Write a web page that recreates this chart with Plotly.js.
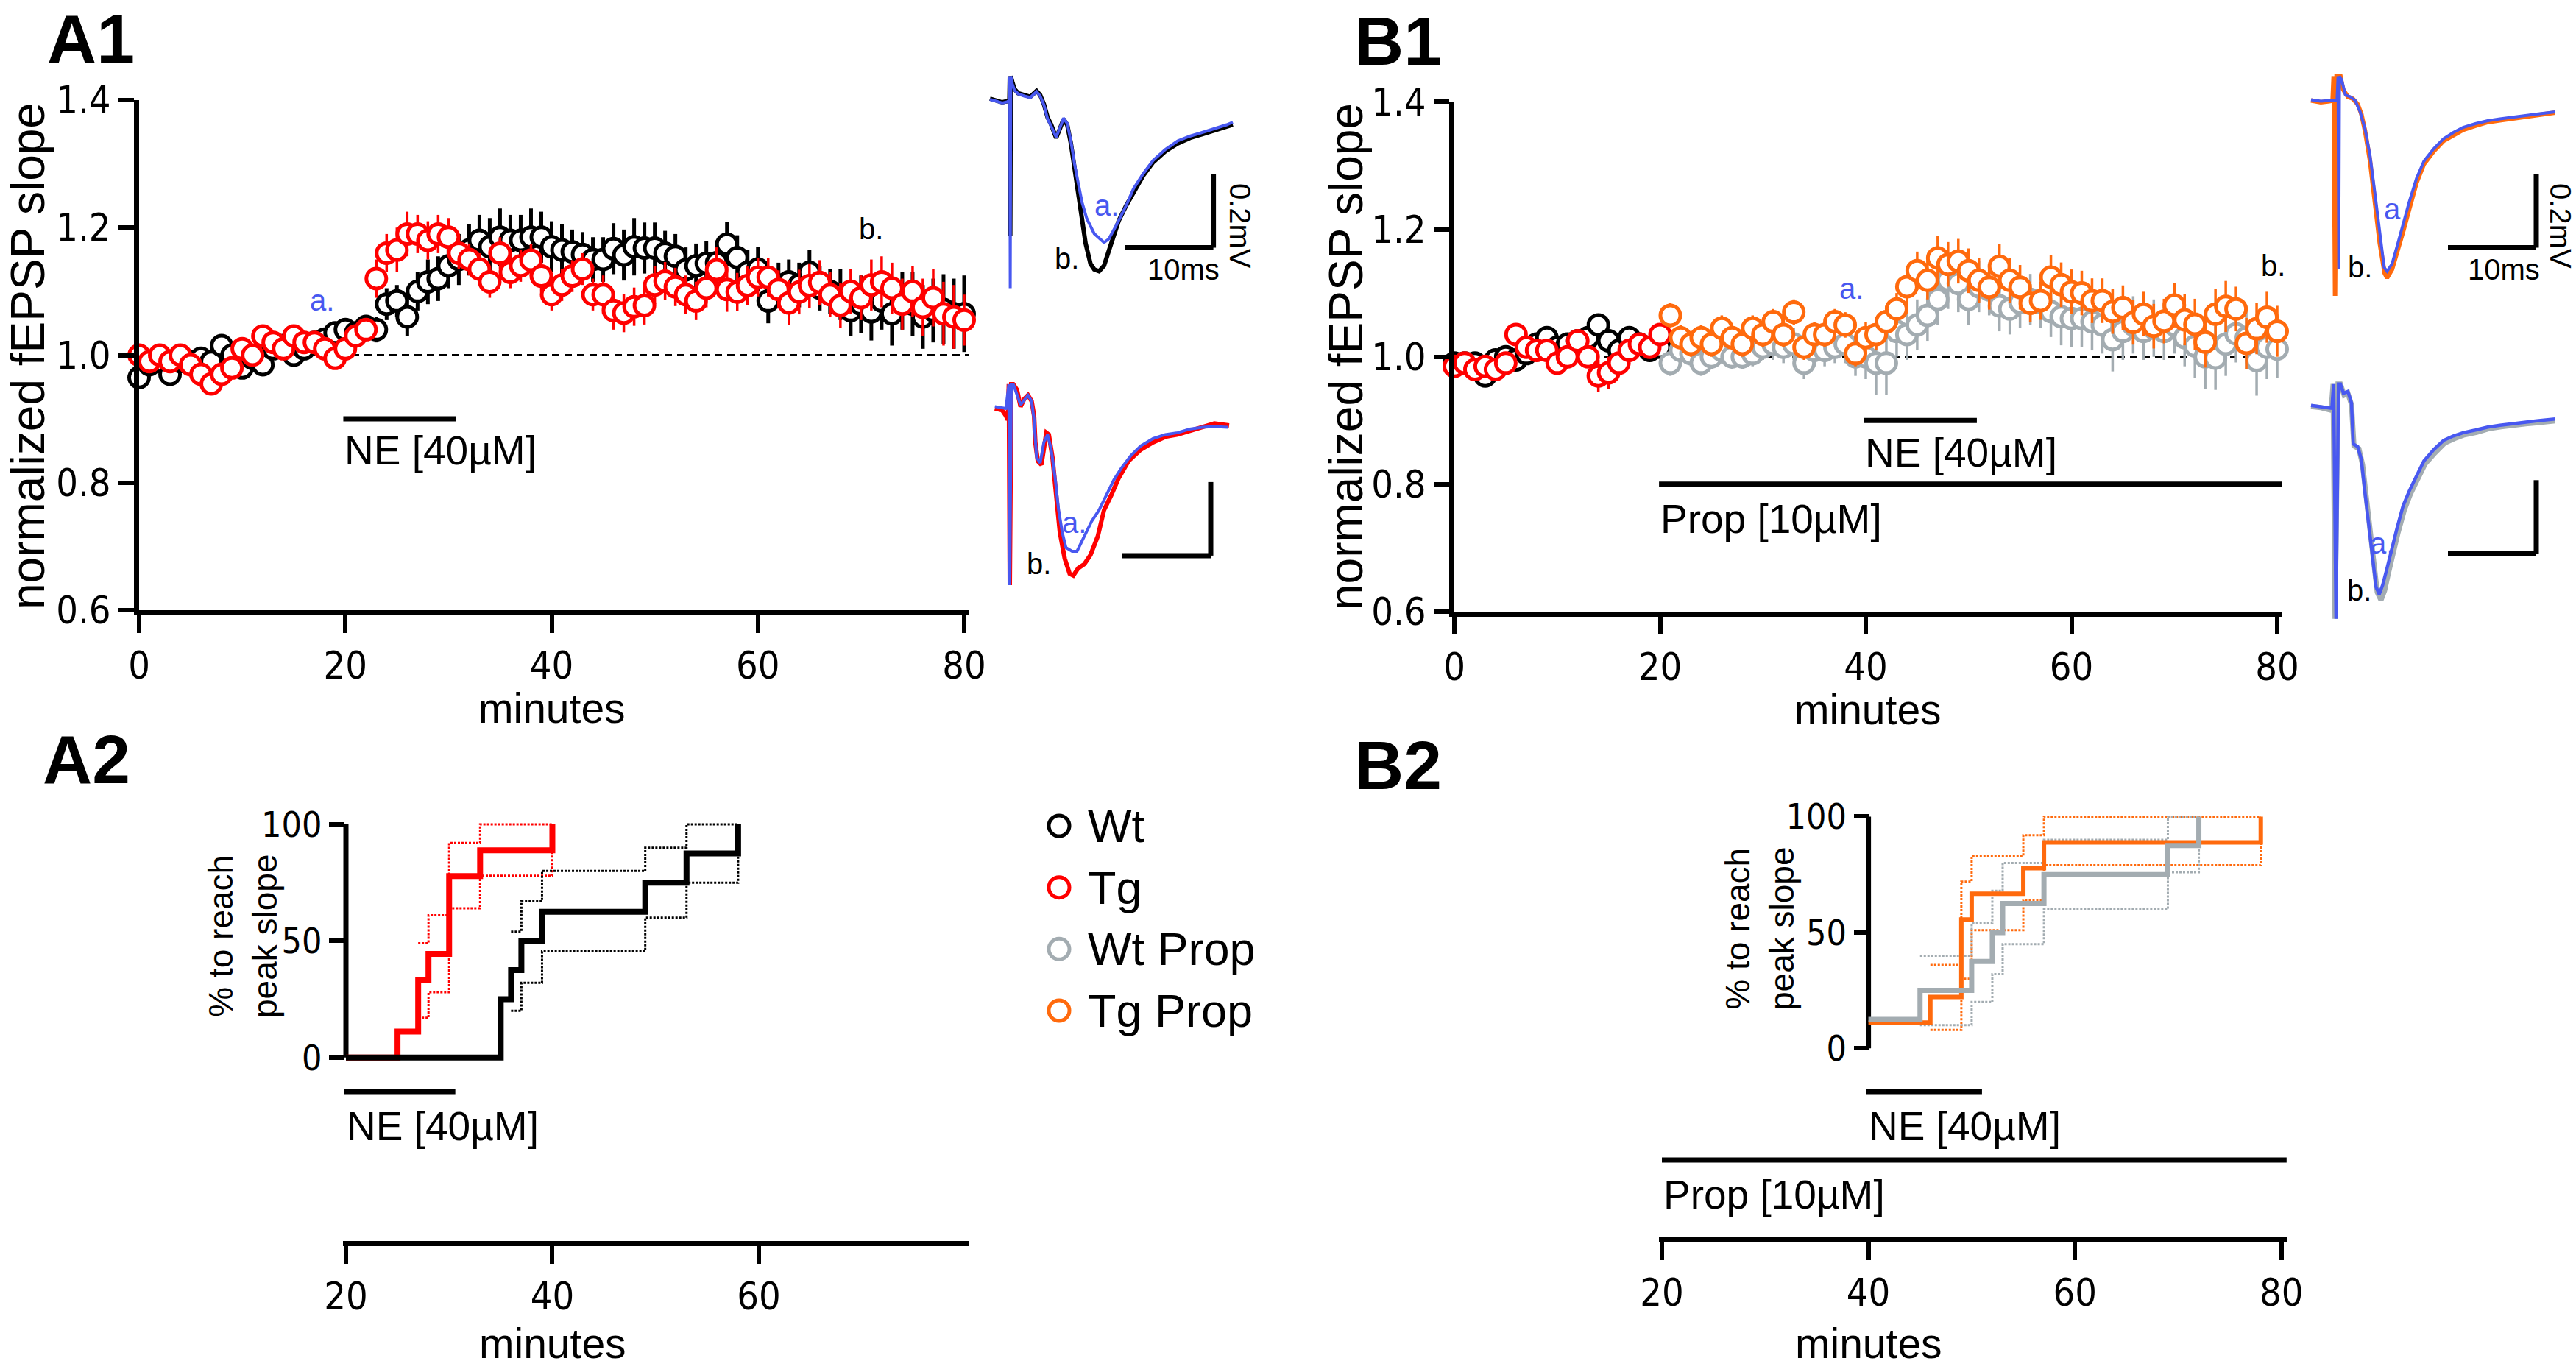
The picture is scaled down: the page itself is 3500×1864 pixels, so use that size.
<!DOCTYPE html>
<html><head><meta charset="utf-8">
<script src="https://cdn.plot.ly/plotly-3.0.1.min.js"></script>
<style>html,body{margin:0;padding:0;background:#fff}#chart{width:3500px;height:1864px}</style>
</head><body><div id="chart"></div>
<script>
// ================= DATA =================
// A1: normalized fEPSP slope, one point per minute
const minutesAll = [0,1,2,3,4,5,6,7,8,9,10,11,12,13,14,15,16,17,18,19,20,21,22,23,24,25,26,27,28,29,30,31,32,33,34,35,36,37,38,39,40,41,42,43,44,45,46,47,48,49,50,51,52,53,54,55,56,57,58,59,60,61,62,63,64,65,66,67,68,69,70,71,72,73,74,75,76,77,78,79,80];
const a1Wt = [0.965,0.985,0.99,0.97,0.99,0.99,0.995,0.99,1.015,1.00,
  0.98,0.995,0.985,1.01,1.015,1.00,1.01,1.02,1.025,1.035,
  1.04,1.035,1.045,1.04,1.08,1.085,1.06,1.10,1.115,1.12,
  1.14,1.15,1.165,1.18,1.17,1.185,1.18,1.18,1.185,1.185,
  1.17,1.165,1.162,1.158,1.15,1.15,1.167,1.157,1.17,1.168,
  1.168,1.16,1.155,1.134,1.14,1.144,1.145,1.174,1.153,1.13,
  1.135,1.085,1.11,1.115,1.11,1.13,1.105,1.10,1.095,1.07,
  1.08,1.068,1.085,1.065,1.085,1.08,1.06,1.07,1.072,1.065,1.065];
const a1WtErr = [0.012,0.01,0.01,0.012,0.01,0.01,0.01,0.01,0.012,0.01,
  0.012,0.01,0.012,0.01,0.01,0.01,0.01,0.01,0.012,0.012,
  0.015,0.015,0.018,0.02,0.025,0.025,0.03,0.03,0.035,0.035,
  0.035,0.04,0.04,0.04,0.045,0.045,0.04,0.04,0.045,0.04,
  0.04,0.04,0.035,0.035,0.035,0.035,0.04,0.04,0.045,0.04,
  0.04,0.035,0.035,0.035,0.035,0.035,0.035,0.035,0.035,0.035,
  0.035,0.035,0.035,0.035,0.035,0.035,0.035,0.035,0.04,0.04,
  0.045,0.045,0.045,0.05,0.045,0.05,0.05,0.05,0.055,0.055,0.06];
const a1Tg = [1.00,0.99,1.00,0.99,1.00,0.985,0.97,0.955,0.97,0.98,
  1.01,1.00,1.03,1.02,1.01,1.03,1.02,1.02,1.01,0.995,
  1.01,1.03,1.04,1.12,1.16,1.165,1.19,1.19,1.18,1.19,
  1.185,1.16,1.15,1.135,1.115,1.16,1.13,1.14,1.149,1.124,
  1.095,1.11,1.124,1.135,1.095,1.095,1.07,1.066,1.076,1.078,
  1.11,1.116,1.107,1.095,1.085,1.105,1.134,1.103,1.099,1.109,
  1.122,1.122,1.103,1.082,1.099,1.109,1.114,1.095,1.078,1.10,
  1.09,1.11,1.115,1.105,1.08,1.10,1.075,1.09,1.065,1.06,1.055];
const a1TgErr = [0.012,0.01,0.01,0.01,0.015,0.01,0.012,0.01,0.01,0.01,
  0.012,0.01,0.012,0.01,0.01,0.012,0.01,0.01,0.012,0.012,
  0.012,0.012,0.012,0.03,0.03,0.035,0.035,0.03,0.03,0.03,
  0.03,0.025,0.025,0.025,0.025,0.025,0.025,0.025,0.025,0.025,
  0.025,0.025,0.025,0.025,0.025,0.03,0.03,0.03,0.03,0.03,
  0.03,0.03,0.03,0.03,0.03,0.03,0.035,0.035,0.03,0.03,
  0.03,0.03,0.03,0.035,0.035,0.035,0.035,0.035,0.035,0.035,
  0.035,0.04,0.04,0.04,0.04,0.04,0.045,0.045,0.05,0.05,0.04];

// B1: baseline (0-20 min) and propranolol period (21-80 min)
const minutesBase = [0,1,2,3,4,5,6,7,8,9,10,11,12,13,14,15,16,17,18,19,20];
const minutesDrug = [21,22,23,24,25,26,27,28,29,30,31,32,33,34,35,36,37,38,39,40,41,42,43,44,45,46,47,48,49,50,51,52,53,54,55,56,57,58,59,60,61,62,63,64,65,66,67,68,69,70,71,72,73,74,75,76,77,78,79,80];
const b1WtBase = [0.99,0.99,0.99,0.97,0.995,1.00,0.995,1.005,1.02,1.03,1.015,1.02,1.025,1.03,1.05,1.025,1.01,1.03,1.02,1.01,1.015];
const b1WtBaseErr = [0.01,0.01,0.01,0.01,0.01,0.01,0.01,0.01,0.01,0.012,0.01,0.012,0.01,0.012,0.015,0.012,0.01,0.012,0.01,0.01,0.01];
const b1TgBase = [0.985,0.99,0.98,0.985,0.98,0.99,1.035,1.015,1.01,1.01,0.99,1.00,1.025,1.00,0.97,0.975,0.99,1.01,1.02,1.015,1.035];
const b1TgBaseErr = [0.01,0.012,0.012,0.01,0.012,0.012,0.012,0.012,0.012,0.012,0.015,0.012,0.015,0.015,0.025,0.025,0.015,0.015,0.012,0.012,0.012];
const b1WtProp = [0.99,1.01,1.005,0.99,1.00,1.01,1.00,1.00,1.005,1.015,
  1.02,1.015,1.02,0.99,1.01,1.01,1.015,1.02,1.00,1.00,
  0.99,0.99,1.04,1.035,1.05,1.065,1.09,1.12,1.115,1.09,
  1.11,1.105,1.08,1.075,1.085,1.09,1.085,1.071,1.063,1.06,
  1.06,1.055,1.05,1.027,1.04,1.05,1.04,1.045,1.04,1.05,
  1.03,1.017,1.00,0.998,1.02,1.036,1.03,0.994,1.015,1.012];
const b1WtPropErr = [0.02,0.02,0.02,0.02,0.02,0.02,0.02,0.02,0.02,0.02,
  0.025,0.025,0.025,0.025,0.025,0.025,0.025,0.03,0.03,0.035,
  0.05,0.05,0.04,0.04,0.04,0.04,0.04,0.045,0.045,0.04,
  0.04,0.04,0.04,0.04,0.04,0.04,0.04,0.04,0.045,0.045,
  0.045,0.045,0.045,0.05,0.045,0.045,0.045,0.045,0.045,0.045,
  0.045,0.05,0.05,0.05,0.05,0.045,0.05,0.055,0.05,0.045];
const b1TgProp = [1.065,1.03,1.02,1.03,1.02,1.045,1.03,1.02,1.045,1.035,
  1.055,1.035,1.07,1.015,1.035,1.035,1.055,1.05,1.005,1.03,
  1.035,1.055,1.075,1.11,1.135,1.12,1.155,1.145,1.15,1.135,
  1.12,1.109,1.142,1.12,1.109,1.084,1.088,1.125,1.113,1.102,
  1.10,1.088,1.088,1.071,1.077,1.054,1.067,1.048,1.056,1.081,
  1.058,1.051,1.023,1.067,1.079,1.075,1.021,1.044,1.062,1.04];
const b1TgPropErr = [0.02,0.02,0.02,0.02,0.02,0.02,0.02,0.02,0.02,0.02,
  0.02,0.02,0.02,0.02,0.02,0.02,0.02,0.02,0.02,0.025,
  0.025,0.025,0.025,0.03,0.03,0.03,0.035,0.035,0.035,0.035,
  0.035,0.035,0.035,0.035,0.035,0.03,0.03,0.035,0.035,0.035,
  0.035,0.035,0.035,0.035,0.035,0.035,0.035,0.035,0.035,0.035,
  0.04,0.04,0.04,0.04,0.04,0.035,0.04,0.04,0.04,0.04];

// A2: % of slices reaching peak slope (cumulative steps + dotted bands)
const a2WtT = [20,35,36,37,39,49,53,58];
const a2WtP = [0,25,37.5,50,62.5,75,87.5,100];
const a2WtBandT = [36,37,39,49,53,58];
const a2WtHi = [54,67,80,90,100,100];
const a2WtLo = [20,32,45.5,60,75,87];
const a2TgT = [20,25,27,28,30,33,40];
const a2TgP = [0,11.1,33.3,44.4,77.8,88.9,100];
const a2TgBandT = [27,28,30,33,40];
const a2TgHi = [49,61,92,100,100];
const a2TgLo = [17,28,64,78,89];

// B2
const b2WtpT = [40,45,50,52,53,57,69,72];
const b2WtpP = [12.5,25,37.5,50,62.5,75,87.5,100];
const b2WtpBandT = [45,50,52,53,57,69,72];
const b2WtpHi = [40,54,68,80,90,100,100];
const b2WtpLo = [10,20,32,45,60,76,88];
const b2TgpT = [40,46,49,50,55,57,78];
const b2TgpP = [11.1,22.2,55.6,66.7,77.8,88.9,100];
const b2TgpBandT = [46,49,50,55,57,78];
const b2TgpHi = [36,72,83,92,100,100];
const b2TgpLo = [8,30,51,64,79,89];

// Example fEPSP traces (time in ms, voltage in mV)
const a1TopBlackT = [0,0.69,1.39,1.94,2.2,2.25,2.3,2.36,2.53,2.78,3.19,3.89,4.58,5.28,5.69,6.11,6.53,6.94,7.5,7.92,8.33,8.75,9.17,9.58,10.0,10.42,10.83,11.39,11.81,12.36,12.92,13.47,14.03,14.58,15.42,16.25,17.36,18.47,19.86,21.25,22.64,24.03,25.42,26.81,27.5];
const a1TopBlackV = [0.005,0,-0.005,-0.002,0,0.066,-0.367,0.066,0.051,0.031,0.02,0.015,0.01,0.026,0.015,-0.01,-0.046,-0.066,-0.102,-0.077,-0.051,-0.066,-0.117,-0.184,-0.255,-0.327,-0.388,-0.444,-0.459,-0.464,-0.449,-0.408,-0.367,-0.327,-0.286,-0.25,-0.204,-0.168,-0.138,-0.117,-0.102,-0.092,-0.082,-0.073,-0.066];
const a1TopBlueT = [0,0.69,1.39,1.94,2.2,2.25,2.3,2.36,2.53,2.78,3.19,3.89,4.58,5.28,5.69,6.11,6.53,6.94,7.5,7.92,8.33,8.75,9.17,9.58,10.0,10.42,10.97,11.81,12.92,13.47,14.31,15.42,16.25,17.36,18.47,19.86,21.25,22.64,24.03,25.42,26.81,27.5];
const a1TopBlueV = [0.003,-0.002,-0.007,-0.004,0,0.066,-0.51,0.066,0.045,0.028,0.018,0.012,0.008,0.024,0.012,-0.012,-0.05,-0.07,-0.1,-0.075,-0.048,-0.062,-0.11,-0.173,-0.23,-0.276,-0.321,-0.362,-0.386,-0.376,-0.339,-0.286,-0.24,-0.199,-0.163,-0.133,-0.11,-0.097,-0.087,-0.077,-0.066,-0.059];
const a1BotRedT = [0.56,1.39,1.81,2.03,2.14,2.25,2.42,2.64,3.06,3.47,3.89,4.31,4.72,5.0,5.14,5.42,5.83,6.11,6.39,6.67,7.08,7.5,7.92,8.47,9.03,9.44,10.0,10.69,11.39,12.22,12.92,13.75,14.58,15.69,17.08,18.47,19.86,21.25,22.64,24.03,25.42,27.08];
const a1BotRedV = [0,-0.005,-0.02,-0.031,0.066,-0.48,0.066,0.066,0.051,0.005,0.026,0.036,0.02,-0.02,-0.092,-0.143,-0.153,-0.112,-0.066,-0.071,-0.133,-0.235,-0.337,-0.408,-0.449,-0.454,-0.434,-0.423,-0.398,-0.347,-0.276,-0.235,-0.189,-0.143,-0.112,-0.092,-0.077,-0.071,-0.061,-0.051,-0.041,-0.046];
const a1BotBlueT = [0.56,1.81,2.14,2.25,2.42,2.64,3.47,4.31,4.72,5.0,5.28,5.69,6.11,6.53,6.94,7.36,7.78,8.19,8.61,9.31,9.86,10.69,11.53,12.36,13.19,14.03,14.86,15.97,17.08,18.47,19.86,21.25,22.64,24.03,25.42,26.94];
const a1BotBlueV = [0.005,0,0.066,-0.48,0.066,0.066,0.01,0.036,0.02,-0.031,-0.133,-0.148,-0.092,-0.071,-0.112,-0.184,-0.276,-0.337,-0.378,-0.388,-0.388,-0.347,-0.306,-0.276,-0.235,-0.194,-0.163,-0.128,-0.102,-0.082,-0.071,-0.066,-0.056,-0.051,-0.049,-0.051];
const b1TopOrangeT = [0,1.11,2.08,2.44,2.56,2.72,2.89,3.33,3.61,4.17,4.72,5.28,5.69,6.11,6.67,7.22,7.78,8.33,8.61,9.17,9.72,10.42,11.11,11.94,12.78,13.89,15.0,16.11,17.22,18.61,20.0,21.39,22.78,24.17,25.56,27.64];
const b1TopOrangeV = [0,-0.005,-0.002,0,0.066,-0.531,0.066,0.066,0.031,0.01,0.005,-0.01,-0.036,-0.082,-0.163,-0.276,-0.388,-0.469,-0.482,-0.459,-0.418,-0.357,-0.296,-0.224,-0.173,-0.138,-0.11,-0.094,-0.08,-0.069,-0.059,-0.054,-0.049,-0.044,-0.039,-0.033];
const b1TopBlueT = [0,1.11,2.08,2.94,3.06,3.14,3.22,3.47,3.89,4.44,5.0,5.56,6.11,6.67,7.22,7.78,8.28,8.61,9.17,9.72,10.42,11.11,11.94,12.78,13.89,15.0,16.11,17.22,18.61,20.0,21.39,22.78,24.17,25.56,27.64];
const b1TopBlueV = [0.002,-0.002,0,0,0.066,-0.459,0.066,0.056,0.015,0.01,0,-0.031,-0.077,-0.148,-0.25,-0.357,-0.454,-0.464,-0.444,-0.398,-0.335,-0.276,-0.212,-0.165,-0.131,-0.104,-0.087,-0.073,-0.063,-0.055,-0.05,-0.045,-0.041,-0.037,-0.031];
const b1BotGrayT = [0,1.11,2.28,2.5,2.72,3.06,3.33,3.75,4.17,4.58,4.86,5.42,5.83,6.25,6.67,7.08,7.5,7.92,8.33,8.75,9.31,9.86,10.56,11.25,12.08,12.92,14.03,15.14,16.25,17.36,18.75,20.14,21.53,22.92,24.31,25.69,27.64];
const b1BotGrayV = [0,-0.003,-0.01,0.061,-0.577,0.061,0.061,0.031,0.036,0.005,-0.107,-0.115,-0.158,-0.25,-0.342,-0.434,-0.505,-0.526,-0.5,-0.454,-0.393,-0.342,-0.281,-0.238,-0.197,-0.156,-0.126,-0.099,-0.087,-0.077,-0.07,-0.06,-0.055,-0.05,-0.047,-0.044,-0.039];
const b1BotBlueT = [0,1.11,2.36,2.56,2.83,3.11,3.33,3.67,4.17,4.58,4.78,5.28,5.69,6.11,6.53,6.94,7.36,7.72,8.11,8.61,9.17,9.72,10.42,11.11,11.94,12.78,13.89,15.0,16.11,17.22,18.61,20.0,21.39,22.78,24.17,25.56,27.64];
const b1BotBlueV = [0.003,0,-0.005,0.061,-0.577,0.061,0.061,0.036,0.041,0.01,-0.102,-0.109,-0.143,-0.235,-0.327,-0.418,-0.49,-0.51,-0.485,-0.439,-0.383,-0.332,-0.27,-0.23,-0.189,-0.148,-0.117,-0.092,-0.08,-0.071,-0.064,-0.056,-0.051,-0.046,-0.043,-0.039,-0.034];

// Legend / labels
const legendNames = ['Wt','Tg','Wt Prop','Tg Prop'];
const slopeTicks = [0.6,0.8,1.0,1.2,1.4];
const slopeTickText = ['0.6','0.8','1.0','1.2','1.4'];
const pctTicks = [0,50,100];

// ================= STYLE / LAYOUT =================
const W = 3500, H = 1864;
const px = v => v / W;
const py = v => 1 - v / H;
const FONT = 'Liberation Sans, Arial, Helvetica, sans-serif';
const NARROW = 'Liberation Sans Narrow, Arial Narrow, DejaVu Sans Condensed, Liberation Sans, sans-serif';
const COL = {wt:'#000000', tg:'#FF0000', wtp:'#A3ACB1', tgp:'#FF6A0D', blue:'#4858F0'};
const legendColors = [COL.wt, COL.tg, COL.wtp, COL.tgp];

function pts(x, y, err, color, xa, ya, ew) {
  return {type:'scatter', mode:'markers', x:x, y:y, xaxis:xa, yaxis:ya, cliponaxis:false,
    marker:{symbol:'circle', size:27, color:'#ffffff', line:{color:color, width:5}},
    error_y:{type:'data', array:err, visible:true, color:color, thickness:ew, width:0},
    showlegend:false, hoverinfo:'skip'};
}
function step(x, y, color, width, dash, xa, ya) {
  return {type:'scatter', mode:'lines', x:x, y:y, xaxis:xa, yaxis:ya,
    line:{shape:'hv', color:color, width:width, dash:dash},
    showlegend:false, hoverinfo:'skip'};
}
function wave(x, y, color, width, xa, ya) {
  return {type:'scatter', mode:'lines', x:x, y:y, xaxis:xa, yaxis:ya,
    line:{color:color, width:width},
    showlegend:false, hoverinfo:'skip'};
}

const traces = [
  // A1
  pts(minutesAll, a1Wt, a1WtErr, COL.wt, 'x', 'y', 5),
  pts(minutesAll, a1Tg, a1TgErr, COL.tg, 'x', 'y', 3.5),
  // B1
  pts(minutesBase, b1WtBase, b1WtBaseErr, COL.wt, 'x2', 'y2', 5),
  pts(minutesBase, b1TgBase, b1TgBaseErr, COL.tg, 'x2', 'y2', 3.5),
  pts(minutesDrug, b1WtProp, b1WtPropErr, COL.wtp, 'x2', 'y2', 3.5),
  pts(minutesDrug, b1TgProp, b1TgPropErr, COL.tgp, 'x2', 'y2', 3.5),
  // A2
  step(a2TgBandT, a2TgHi, COL.tg, 3, '3px,2px', 'x3', 'y3'),
  step(a2TgBandT, a2TgLo, COL.tg, 3, '3px,2px', 'x3', 'y3'),
  step(a2WtBandT, a2WtHi, COL.wt, 3, '3px,2px', 'x3', 'y3'),
  step(a2WtBandT, a2WtLo, COL.wt, 3, '3px,2px', 'x3', 'y3'),
  step(a2TgT, a2TgP, COL.tg, 8, 'solid', 'x3', 'y3'),
  step(a2WtT, a2WtP, COL.wt, 8, 'solid', 'x3', 'y3'),
  // B2
  step(b2TgpBandT, b2TgpHi, COL.tgp, 3, '3px,2px', 'x4', 'y4'),
  step(b2TgpBandT, b2TgpLo, COL.tgp, 3, '3px,2px', 'x4', 'y4'),
  step(b2WtpBandT, b2WtpHi, COL.wtp, 3, '3px,2px', 'x4', 'y4'),
  step(b2WtpBandT, b2WtpLo, COL.wtp, 3, '3px,2px', 'x4', 'y4'),
  step(b2TgpT, b2TgpP, COL.tgp, 6, 'solid', 'x4', 'y4'),
  step(b2WtpT, b2WtpP, COL.wtp, 7, 'solid', 'x4', 'y4'),
  // insets
  wave(a1TopBlackT, a1TopBlackV, COL.wt, 6, 'x5', 'y5'),
  wave(a1TopBlueT, a1TopBlueV, COL.blue, 4, 'x5', 'y5'),
  wave(a1BotRedT, a1BotRedV, COL.tg, 6, 'x6', 'y6'),
  wave(a1BotBlueT, a1BotBlueV, COL.blue, 4, 'x6', 'y6'),
  wave(b1TopOrangeT, b1TopOrangeV, COL.tgp, 6, 'x7', 'y7'),
  wave(b1TopBlueT, b1TopBlueV, COL.blue, 4, 'x7', 'y7'),
  wave(b1BotGrayT, b1BotGrayV, COL.wtp, 7, 'x8', 'y8'),
  wave(b1BotBlueT, b1BotBlueV, COL.blue, 4.5, 'x8', 'y8'),
  // legend markers
  {type:'scatter', mode:'markers', x:legendNames.map(() => 0.0975), y:legendNames.map((n, i) => i + 1),
   xaxis:'x9', yaxis:'y9', cliponaxis:false,
   marker:{symbol:'circle', size:28, color:'#ffffff', line:{color:legendColors, width:5}},
   showlegend:false, hoverinfo:'skip'}
];

const tickFont = {family:NARROW, size:52, color:'#000'};
function mainX(domain, range, vals, extra) {
  return Object.assign({domain:domain, range:range, showline:true, linewidth:7, linecolor:'#000',
    ticks:'outside', ticklen:24, tickwidth:6, tickcolor:'#000', tickvals:vals, tickfont:tickFont,
    showgrid:false, zeroline:false, fixedrange:true}, extra || {});
}
function mainY(domain, range, vals, text, extra) {
  return Object.assign({domain:domain, range:range, showline:true, linewidth:7, linecolor:'#000',
    ticks:'outside', ticklen:21, tickwidth:6, tickcolor:'#000', tickvals:vals, ticktext:text, tickfont:tickFont,
    showgrid:false, zeroline:false, fixedrange:true}, extra || {});
}
const hidden = (domain, range) => ({domain:domain, range:range, visible:false, showgrid:false, zeroline:false, fixedrange:true});

const layout = {
  width:W, height:H, margin:{l:0, r:0, t:0, b:0}, paper_bgcolor:'#fff', plot_bgcolor:'rgba(0,0,0,0)',
  showlegend:false, font:{family:FONT, color:'#000'},
  xaxis: mainX([px(189), px(1317)], [0, 80.5], [0,20,40,60,80], {anchor:'y'}),
  yaxis: mainY([py(829), py(136)], [0.6, 1.4], slopeTicks, slopeTickText, {anchor:'x'}),
  xaxis2: mainX([px(1976), px(3101)], [0, 80.5], [0,20,40,60,80], {anchor:'y2'}),
  yaxis2: mainY([py(831), py(138.4)], [0.6, 1.4], slopeTicks, slopeTickText, {anchor:'x2'}),
  xaxis3: mainX([px(465.8), px(1317)], [19.7, 80.4], [20,40,60], {anchor:'free', position:py(1688.6)}),
  yaxis3: mainY([py(1455.7), py(1101)], [-6, 106], pctTicks, ['0','50','100'],
    {anchor:'free', position:px(468), showline:false, tickfont:{family:NARROW, size:48, color:'#000'}}),
  xaxis4: mainX([px(2253.8), px(3106.8)], [19.7, 80.5], [20,40,60,80], {anchor:'free', position:py(1683.5)}),
  yaxis4: mainY([py(1443.2), py(1090.6)], [-6, 106], pctTicks, ['0','50','100'],
    {anchor:'free', position:px(2539.5), showline:false, tickfont:{family:NARROW, size:48, color:'#000'}}),
  xaxis5: Object.assign(hidden([px(1333), px(1705)], [-1, 30]), {anchor:'y5'}),
  yaxis5: Object.assign(hidden([py(436.5), py(86.5)], [-0.6, 0.1]), {anchor:'x5'}),
  xaxis6: Object.assign(hidden([px(1333), px(1705)], [-1, 30]), {anchor:'y6'}),
  yaxis6: Object.assign(hidden([py(854.9), py(504.9)], [-0.6, 0.1]), {anchor:'x6'}),
  xaxis7: Object.assign(hidden([px(3128), px(3500)], [-1, 30]), {anchor:'y7'}),
  yaxis7: Object.assign(hidden([py(436.5), py(86.5)], [-0.6, 0.1]), {anchor:'x7'}),
  xaxis8: Object.assign(hidden([px(3128), px(3500)], [-1, 30]), {anchor:'y8'}),
  yaxis8: Object.assign(hidden([py(852.3), py(502.3)], [-0.6, 0.1]), {anchor:'x8'}),
  xaxis9: Object.assign(hidden([px(1400), px(1800)], [0, 1]), {anchor:'y9'}),
  yaxis9: Object.assign(hidden([py(1414.8), py(1080.2)], [4.5, 0.5]), {anchor:'x9'}),
  shapes: [], annotations: []
};

const L = (xref, yref, x0, y0, x1, y1, w, dash) => ({type:'line', xref:xref, yref:yref, x0:x0, y0:y0, x1:x1, y1:y1,
  line:{color:'#000', width:w, dash:dash || 'solid'}, layer:'below'});
layout.shapes.push(
  L('x','y', 0, 1.0, 81, 1.0, 3, '10px,7px'),
  L('x','y', 19.8, 0.9, 30.7, 0.9, 7),
  L('x2','y2', 0, 1.0, 81, 1.0, 3, '10px,7px'),
  L('x2','y2', 39.8, 0.9, 50.8, 0.9, 7),
  L('x2','y2', 19.9, 0.8, 80.5, 0.8, 7),
  L('x3','y3', 20, 0, 20, 100, 7),
  L('x3','paper', 19.8, py(1483), 30.6, py(1483), 7),
  L('x4','y4', 40, 0, 40, 100, 7),
  L('x4','paper', 39.8, py(1483), 51, py(1483), 7),
  L('x4','paper', 20, py(1576), 81, py(1576), 7),
  // scale bars (10 ms, 0.2 mV)
  L('x5','y5', 15.3, -0.4, 25.3, -0.4, 7), L('x5','y5', 25.3, -0.4, 25.3, -0.2, 7),
  L('x6','y6', 15.0, -0.4, 25.0, -0.4, 7), L('x6','y6', 25.0, -0.4, 25.0, -0.2, 7),
  L('x7','y7', 15.5, -0.4, 25.5, -0.4, 7), L('x7','y7', 25.5, -0.4, 25.5, -0.2, 7),
  L('x8','y8', 15.5, -0.4, 25.5, -0.4, 7), L('x8','y8', 25.5, -0.4, 25.5, -0.2, 7)
);

const A = (text, xref, yref, x, y, size, opts) => Object.assign({text:text, xref:xref, yref:yref, x:x, y:y,
  xanchor:'center', yanchor:'middle', showarrow:false, font:{family:FONT, size:size, color:'#000'}}, opts || {});
const boldF = {family:FONT, size:93, color:'#000', weight:'bold'};
layout.annotations.push(
  A('<b>A1</b>', 'paper','paper', px(62), py(53), 93, {xanchor:'left', font:boldF}),
  A('<b>B1</b>', 'paper','paper', px(1838), py(56), 93, {xanchor:'left', font:boldF}),
  A('<b>A2</b>', 'paper','paper', px(56), py(1032), 93, {xanchor:'left', font:boldF}),
  A('<b>B2</b>', 'paper','paper', px(1838), py(1040), 93, {xanchor:'left', font:boldF}),
  A('normalized fEPSP slope', 'paper','paper', px(38), py(484), 64, {textangle:-90}),
  A('normalized fEPSP slope', 'paper','paper', px(1829), py(485), 64, {textangle:-90}),
  A('minutes', 'paper','paper', px(750), py(962), 57),
  A('minutes', 'paper','paper', px(2538), py(964), 57),
  A('minutes', 'paper','paper', px(751), py(1825), 57),
  A('minutes', 'paper','paper', px(2539), py(1825), 57),
  A('% to reach<br>peak slope', 'paper','paper', px(330), py(1272), 46, {textangle:-90}),
  A('% to reach<br>peak slope', 'paper','paper', px(2391), py(1262), 46, {textangle:-90}),
  A('NE [40µM]', 'x','y', 19.8, 0.85, 55, {xanchor:'left'}),
  A('NE [40µM]', 'x2','y2', 39.8, 0.85, 55, {xanchor:'left'}),
  A('Prop [10µM]', 'x2','y2', 19.9, 0.746, 55, {xanchor:'left'}),
  A('NE [40µM]', 'x3','paper', 19.9, py(1530), 55, {xanchor:'left'}),
  A('NE [40µM]', 'x4','paper', 39.9, py(1530), 55, {xanchor:'left'}),
  A('Prop [10µM]', 'x4','paper', 20.0, py(1623), 55, {xanchor:'left'}),
  A('a.', 'x','y', 17.7, 1.086, 40, {font:{family:FONT, size:40, color:COL.blue}}),
  A('b.', 'x','y', 71.0, 1.198, 40),
  A('a.', 'x2','y2', 38.6, 1.107, 40, {font:{family:FONT, size:40, color:COL.blue}}),
  A('b.', 'x2','y2', 79.6, 1.143, 40),
  A('10ms', 'x5','y5', 21.9, -0.46, 40),
  A('0.2mV', 'x5','y5', 28.3, -0.34, 40, {textangle:90}),
  A('a.', 'x5','y5', 13.2, -0.286, 40, {font:{family:FONT, size:40, color:COL.blue}}),
  A('b.', 'x5','y5', 8.7, -0.43, 40),
  A('a.', 'x6','y6', 9.58, -0.311, 40, {font:{family:FONT, size:40, color:COL.blue}}),
  A('b.', 'x6','y6', 5.56, -0.423, 40),
  A('10ms', 'x7','y7', 21.8, -0.459, 40),
  A('0.2mV', 'x7','y7', 28.2, -0.342, 40, {textangle:90}),
  A('a', 'x7','y7', 9.17, -0.296, 40, {font:{family:FONT, size:40, color:COL.blue}}),
  A('b.', 'x7','y7', 5.56, -0.454, 40),
  A('a.', 'x8','y8', 8.06, -0.372, 40, {font:{family:FONT, size:40, color:COL.blue}}),
  A('b.', 'x8','y8', 5.42, -0.5, 40)
);
legendNames.forEach((n, i) => layout.annotations.push(
  A(n, 'x9','y9', 0.19, i + 1, 63, {xanchor:'left', yanchor:'middle'})));

Plotly.newPlot('chart', traces, layout, {staticPlot:true, displayModeBar:false});
</script></body></html>
